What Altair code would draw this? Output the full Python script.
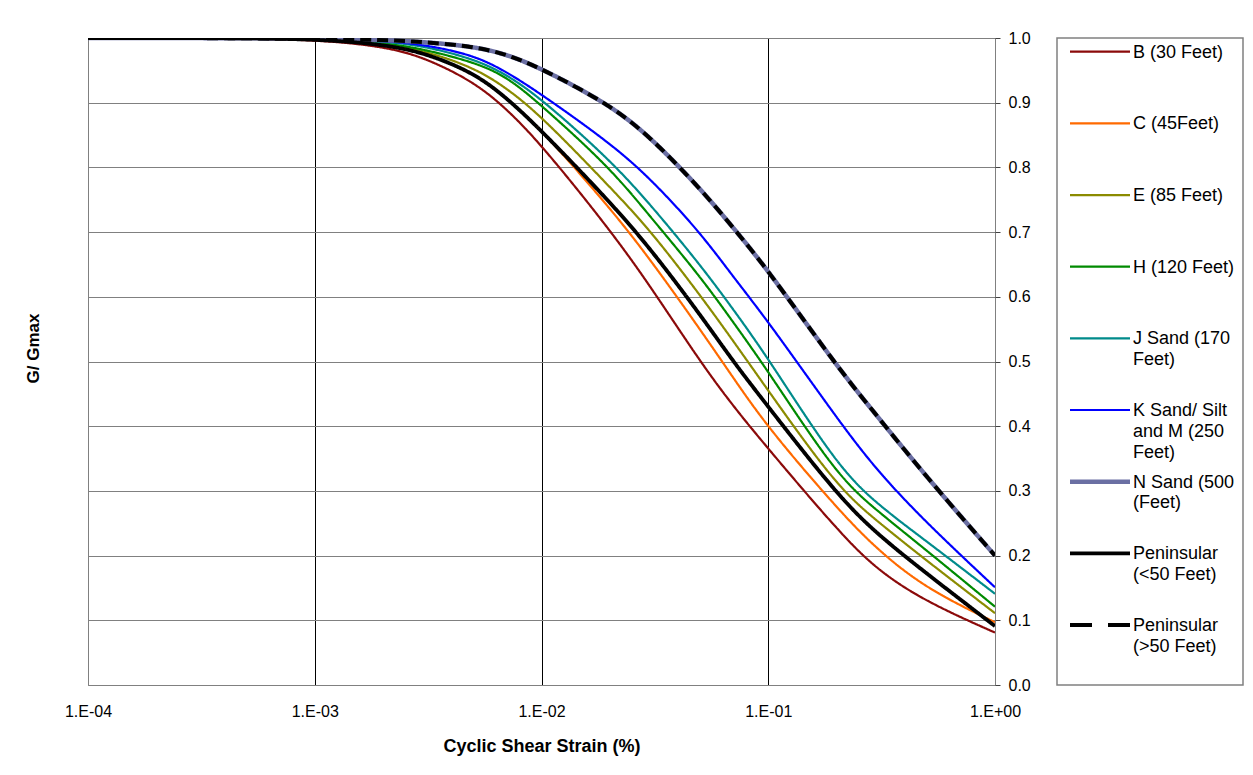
import json
import altair as alt
import pandas as pd

FONT = "Liberation Sans"

# Cyclic shear strain (%) sample points
strain = [1e-4, 3e-4, 1e-3, 2e-3, 3e-3, 5e-3, 7e-3, 1e-2, 2e-2, 3e-2,
          5e-2, 7e-2, 1e-1, 2e-1, 3e-1, 5e-1, 1.0]

# G/Gmax values
g_b = [1.0, 1.0, 0.998, 0.987, 0.971, 0.933, 0.891, 0.835, 0.704, 0.618,
       0.500, 0.431, 0.365, 0.241, 0.178, 0.128, 0.081]
g_c = [1.0, 1.0, 0.999, 0.990, 0.978, 0.947, 0.908, 0.858, 0.738, 0.659,
       0.550, 0.475, 0.397, 0.274, 0.210, 0.148, 0.097]
g_e = [1.0, 1.0, 0.999, 0.991, 0.981, 0.955, 0.923, 0.879, 0.770, 0.704,
       0.603, 0.532, 0.455, 0.307, 0.254, 0.192, 0.111]
g_h = [1.0, 1.0, 0.999, 0.993, 0.983, 0.963, 0.941, 0.896, 0.800, 0.725,
       0.632, 0.561, 0.485, 0.324, 0.270, 0.208, 0.121]
g_j = [1.0, 1.0, 0.999, 0.995, 0.988, 0.968, 0.944, 0.906, 0.812, 0.744,
       0.650, 0.581, 0.505, 0.340, 0.280, 0.222, 0.141]
g_k = [1.0, 1.0, 0.999, 0.996, 0.990, 0.974, 0.948, 0.913, 0.838, 0.784,
       0.700, 0.631, 0.562, 0.413, 0.332, 0.250, 0.151]
g_n = [1.0, 1.0, 0.999, 0.997, 0.994, 0.987, 0.975, 0.953, 0.897, 0.848,
       0.768, 0.707, 0.641, 0.493, 0.417, 0.321, 0.200]
g_p_lt50 = [1.0, 1.0, 0.999, 0.990, 0.978, 0.947, 0.908, 0.857, 0.747, 0.676,
            0.573, 0.500, 0.430, 0.295, 0.234, 0.172, 0.091]
g_p_gt50 = [1.0, 1.0, 0.999, 0.997, 0.994, 0.987, 0.975, 0.953, 0.897, 0.848,
            0.768, 0.707, 0.641, 0.493, 0.417, 0.321, 0.200]

series_names = ["B (30 Feet)", "C (45Feet)", "E (85 Feet)", "H (120 Feet)",
                "J Sand (170 Feet)", "K Sand/ Silt and M (250 Feet)",
                "N Sand (500 (Feet)", "Peninsular (<50 Feet)",
                "Peninsular (>50 Feet)"]
legend_lines = [["B (30 Feet)"], ["C (45Feet)"], ["E (85 Feet)"],
                ["H (120 Feet)"], ["J Sand (170", "Feet)"],
                ["K Sand/ Silt", "and M (250", "Feet)"],
                ["N Sand (500", "(Feet)"], ["Peninsular", "(<50 Feet)"],
                ["Peninsular", "(>50 Feet)"]]
series_values = [g_b, g_c, g_e, g_h, g_j, g_k, g_n, g_p_lt50, g_p_gt50]

colors = ["#8B0A0A", "#FF6A00", "#8B8B00", "#008A00", "#008B8B", "#0000FF",
          "#6B6FA3", "#000000", "#000000"]
widths = [2.2, 2.2, 2.2, 2.2, 2.2, 2.2, 4.5, 3.8, 4.0]
dashes = [[1, 0]] * 8 + [[11, 6]]
legend_dashes = [[1, 0]] * 8 + [[22, 16]]

x_tick_values = [1e-4, 1e-3, 1e-2, 1e-1, 1.0]
x_tick_labels = ["1.E-04", "1.E-03", "1.E-02", "1.E-01", "1.E+00"]
y_tick_values = [0.0, 0.1, 0.2, 0.3, 0.4, 0.5, 0.6, 0.7, 0.8, 0.9, 1.0]

rows = []
for name, vals in zip(series_names, series_values):
    for s, v in zip(strain, vals):
        rows.append({"series": name, "strain": s, "g": v})
df = pd.DataFrame(rows)

legend_df = pd.DataFrame({
    "series": series_names,
    "label": ["\n".join(l) for l in legend_lines],
})

W, H = 907, 647

label_expr = json.dumps(x_tick_labels) + "[round(log(datum.value)/LN10)+4]"

color_enc = alt.Color("series:N",
                      scale=alt.Scale(domain=series_names, range=colors),
                      legend=None)
width_enc = alt.StrokeWidth("series:N",
                            scale=alt.Scale(type="ordinal", domain=series_names,
                                            range=widths),
                            legend=None)

lines = alt.Chart(df).mark_line(interpolate="basis", clip=True).encode(
    x=alt.X("strain:Q",
            scale=alt.Scale(type="log", domain=[1e-4, 1.0]),
            axis=alt.Axis(values=x_tick_values, labelExpr=label_expr,
                          title="Cyclic Shear Strain (%)",
                          titleFont=FONT, titleFontSize=18,
                          titleFontWeight="bold", titleColor="black",
                          titleY=61, titleBaseline="middle",
                          labelFont=FONT, labelFontSize=16,
                          labelColor="black", labelPadding=26,
                          labelBaseline="middle", labelFlush=False,
                          labelOverlap=False, ticks=False, tickSize=0,
                          domain=False, grid=True,
                          gridColor={"condition": {
                              "test": "datum.value < 0.0005 || datum.value > 0.5",
                              "value": "#808080"}, "value": "#000000"},
                          gridWidth=1, gridOpacity=1)),
    y=alt.Y("g:Q",
            scale=alt.Scale(domain=[0, 1]),
            axis=alt.Axis(orient="right", values=y_tick_values, format=".1f",
                          title="G/ Gmax", titleFont=FONT, titleFontSize=17,
                          titleFontWeight="bold", titleColor="black",
                          titleX=-962, titleY=310, titleAngle=270,
                          titleAlign="center", titleBaseline="middle",
                          labelFont=FONT, labelFontSize=16,
                          labelColor="black", labelPadding=8,
                          ticks=True, tickSize=5, tickColor="#404040",
                          domain=False, grid=True, gridColor="#808080",
                          gridWidth=1, gridOpacity=1)),
    color=color_enc,
    strokeWidth=width_enc,
    strokeDash=alt.StrokeDash("series:N",
                              scale=alt.Scale(domain=series_names, range=dashes),
                              legend=None),
)

leg_y = alt.Y("series:N",
              scale=alt.Scale(type="point", domain=series_names,
                              range=[13.7, 587], padding=0),
              axis=None)

box = alt.Chart(pd.DataFrame({"k": [0]})).mark_rect(
    fill="white", stroke="#808080", strokeWidth=1.5
).encode(x=alt.value(969), x2=alt.value(1155), y=alt.value(0), y2=alt.value(H))

leg_rules = alt.Chart(legend_df).mark_rule().encode(
    x=alt.value(982), x2=alt.value(1042), y=leg_y,
    color=color_enc,
    strokeWidth=width_enc,
    strokeDash=alt.StrokeDash("series:N",
                              scale=alt.Scale(domain=series_names, range=legend_dashes),
                              legend=None),
)

leg_text = alt.Chart(legend_df).mark_text(
    align="left", baseline="top", dy=-8, font=FONT, fontSize=18,
    lineBreak="\n", lineHeight=20.8, color="black"
).encode(x=alt.value(1045), y=leg_y, text="label:N")

chart = alt.layer(lines, box, leg_rules, leg_text).resolve_scale(
    y="independent", strokeDash="independent"
).properties(
    width=W, height=H,
    autosize=alt.AutoSizeParams(type="none"),
    padding={"left": 80, "top": 30, "right": 250, "bottom": 80},
    background="white",
).configure_view(stroke="#808080", strokeWidth=1)

chart.save("out.html", embed_options={"renderer": "svg", "actions": False})
